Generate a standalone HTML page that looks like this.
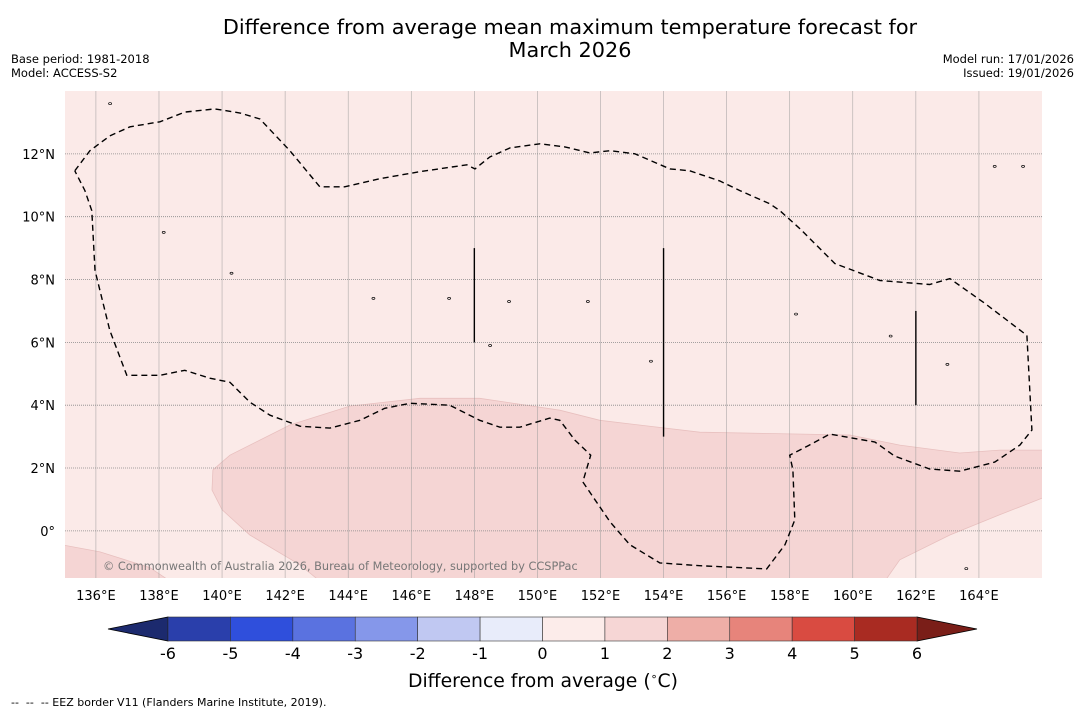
<!DOCTYPE html>
<html><head><meta charset="utf-8">
<style>
body{margin:0;background:#fff;width:1085px;height:713px;overflow:hidden;font-family:"Liberation Sans","DejaVu Sans",sans-serif;}
svg text{font-family:"DejaVu Sans","Liberation Sans",sans-serif;}
</style></head>
<body>
<svg id="chart" width="1085" height="713" xmlns="http://www.w3.org/2000/svg">
<text x="570" y="34" font-size="20.8" text-anchor="middle">Difference from average mean maximum temperature forecast for</text>
<text x="570" y="57" font-size="20.8" text-anchor="middle">March 2026</text>
<text x="11" y="63" font-size="11.5">Base period: 1981-2018</text>
<text x="11" y="77" font-size="11.5">Model: ACCESS-S2</text>
<text x="1074" y="63" font-size="11.5" text-anchor="end">Model run: 17/01/2026</text>
<text x="1074" y="77" font-size="11.5" text-anchor="end">Issued: 19/01/2026</text>
<defs><clipPath id="mapclip"><rect x="65" y="91" width="977" height="487"/></clipPath></defs>
<rect x="65" y="91" width="977" height="487" fill="#fbeae8"/>
<g id="map" clip-path="url(#mapclip)"></g>
<g id="axes"></g>
<g id="cbar"></g>
<text x="543" y="687" font-size="18.8" text-anchor="middle">Difference from average (<tspan font-size="11" dy="-7">∘</tspan><tspan dy="7">C)</tspan></text>
<text x="11" y="706" font-size="11" xml:space="preserve" style="white-space:pre">--  --  -- EEZ border V11 (Flanders Marine Institute, 2019).</text>
</svg>
<script>
const NS="http://www.w3.org/2000/svg";
const lonTicks=[136,138,140,142,144,146,148,150,152,154,156,158,160,162,164];
const latTicks=[0,2,4,6,8,10,12];
const lonRange=[135.02,166.0], latRange=[-1.5,14.0];
const eezLon=[135.33,135.81,136.44,137.08,138.03,138.82,139.77,140.57,141.2,142.15,143.1,143.89,145.0,146.27,147.76,148.02,148.49,149.13,150.08,150.87,151.66,152.3,153.09,154.2,154.83,155.78,156.42,157.37,157.69,158.32,159.43,160.86,162.44,163.08,164.19,165.52,165.68,165.3,164.5,163.39,162.44,161.33,160.7,159.27,158.57,158.0,158.1,158.16,157.85,157.27,155.15,153.88,152.93,152.3,151.44,151.69,151.19,150.71,150.39,149.44,148.81,148.17,147.22,145.96,145.16,144.37,143.42,142.47,141.52,140.88,140.25,139.61,138.82,138.03,136.98,136.44,135.97,135.87,135.65,135.33];
const eezLat=[11.46,12.1,12.57,12.86,13.02,13.33,13.43,13.3,13.11,12.1,10.95,10.95,11.21,11.43,11.65,11.52,11.9,12.19,12.32,12.22,12.03,12.1,12.0,11.52,11.46,11.14,10.83,10.41,10.19,9.62,8.51,7.97,7.84,8.03,7.24,6.22,3.21,2.73,2.19,1.9,1.97,2.38,2.83,3.08,2.7,2.41,1.94,0.35,-0.44,-1.21,-1.11,-1.02,-0.44,0.29,1.56,2.41,2.89,3.52,3.59,3.3,3.3,3.52,4.0,4.06,3.9,3.52,3.27,3.33,3.68,4.1,4.73,4.86,5.11,4.95,4.95,6.38,8.29,10.19,10.83,11.46];
const warmLon=[166.1,164.66,163.39,161.49,159.91,155.15,151.98,150.71,148.17,146.27,144.05,142.15,140.25,139.71,139.68,140.0,140.88,142.47,143.1,161.02,161.49,163.08,164.66,166.1];
const warmLat=[2.57,2.57,2.48,2.73,3.05,3.14,3.52,3.84,4.22,4.22,3.97,3.37,2.41,1.94,1.3,0.67,-0.13,-1.08,-1.6,-1.6,-0.92,-0.13,0.51,1.08];
const patchLon=[134.9,136.13,137.71,138.35,134.9];
const patchLat=[-0.44,-0.67,-1.17,-1.6,-1.6];
const segLon=[148,154,162];
const segTop=[9.0,9.0,7.0];
const segBot=[6.0,3.0,4.0];
const islandLon=[136.45,138.15,140.3,144.8,147.2,148.5,149.1,151.6,153.6,158.2,161.2,163.0,163.6,164.5,165.4];
const islandLat=[13.6,9.5,8.2,7.4,7.4,5.9,7.3,7.3,5.4,6.9,6.2,5.3,-1.2,11.6,11.6];
const cbLevels=[-6,-5,-4,-3,-2,-1,0,1,2,3,4,5,6];
const cbColors=["#2a3fab","#2f4fdc","#5a72e0","#8597ea","#c0c8f2","#e8ecfa","#fcecea","#f6d6d5","#eeaea7","#e7847b","#d94b41","#a92b22"];
const X0=65,X1=1042,Y0=91,Y1=578;
const xs=l=>X0+(l-lonRange[0])/(lonRange[1]-lonRange[0])*(X1-X0);
const ys=l=>Y1-(l-latRange[0])/(latRange[1]-latRange[0])*(Y1-Y0);
function mk(tag,attrs,parent){const e=document.createElementNS(NS,tag);for(const k in attrs)e.setAttribute(k,attrs[k]);parent.appendChild(e);return e;}
const map=document.getElementById('map'),axes=document.getElementById('axes'),cbar=document.getElementById('cbar');
function pts(lo,la){return lo.map((v,i)=>xs(v).toFixed(1)+','+ys(la[i]).toFixed(1)).join(' ');}
let p=mk('polygon',{points:pts(warmLon,warmLat),fill:'#f5d5d4',stroke:'#e8c0bf','stroke-width':0.8},map);


p=mk('polygon',{points:pts(patchLon,patchLat),fill:'#f5d5d4',stroke:'#e8c0bf','stroke-width':0.8},map);


lonTicks.forEach(l=>{const g=mk('line',{x1:xs(l),x2:xs(l),y1:Y0,y2:Y1,stroke:'#999','stroke-width':0.6,opacity:0.8},map);

});
latTicks.forEach(l=>{const g=mk('line',{x1:X0,x2:X1,y1:ys(l),y2:ys(l),stroke:'#888','stroke-width':0.8,'stroke-dasharray':'1,1'},map);

});
p=mk('polyline',{points:pts(eezLon,eezLat),fill:'none',stroke:'#000','stroke-width':1.4,'stroke-dasharray':'6,4'},map);


segLon.forEach((l,i)=>{const s=mk('line',{x1:xs(l),x2:xs(l),y1:ys(segTop[i]),y2:ys(segBot[i]),stroke:'#000','stroke-width':1.4},map);

});
islandLon.forEach((l,i)=>{const c=mk('ellipse',{cx:xs(l),cy:ys(islandLat[i]),rx:1.5,ry:1,fill:'none',stroke:'#000','stroke-width':0.7},map);

});
let t=mk('text',{x:103,y:570,'font-size':11.3,fill:'#777'},map);t.textContent='© Commonwealth of Australia 2026, Bureau of Meteorology, supported by CCSPPac';


lonTicks.forEach(l=>{const e=mk('text',{x:xs(l),y:600,'font-size':13,'text-anchor':'middle'},axes);e.textContent=l+'°E';

});
latTicks.forEach(l=>{const e=mk('text',{x:55,y:ys(l)+5,'font-size':13,'text-anchor':'end'},axes);e.textContent=l===0?'0°':l+'°N';

});
const CB0=168,CB1=917,CY=617,CH=24;
const cx=v=>CB0+(v-cbLevels[0])/(cbLevels[cbLevels.length-1]-cbLevels[0])*(CB1-CB0);
let tri=mk('polygon',{points:`${CB0},${CY} ${CB0},${CY+CH} 108,${CY+CH/2}`,fill:'#1c2a6e',stroke:'#000','stroke-width':0.8},cbar);


tri=mk('polygon',{points:`${CB1},${CY} ${CB1},${CY+CH} 977,${CY+CH/2}`,fill:'#7a1e18',stroke:'#000','stroke-width':0.8},cbar);


cbColors.forEach((c,i)=>{const r=mk('rect',{x:cx(cbLevels[i]),y:CY,width:cx(cbLevels[i+1])-cx(cbLevels[i]),height:CH,fill:c,stroke:'#333','stroke-width':0.6},cbar);

});
cbLevels.forEach(v=>{const e=mk('text',{x:cx(v),y:659,'font-size':16,'text-anchor':'middle'},cbar);e.textContent=v;

});
</script>
</body></html>
